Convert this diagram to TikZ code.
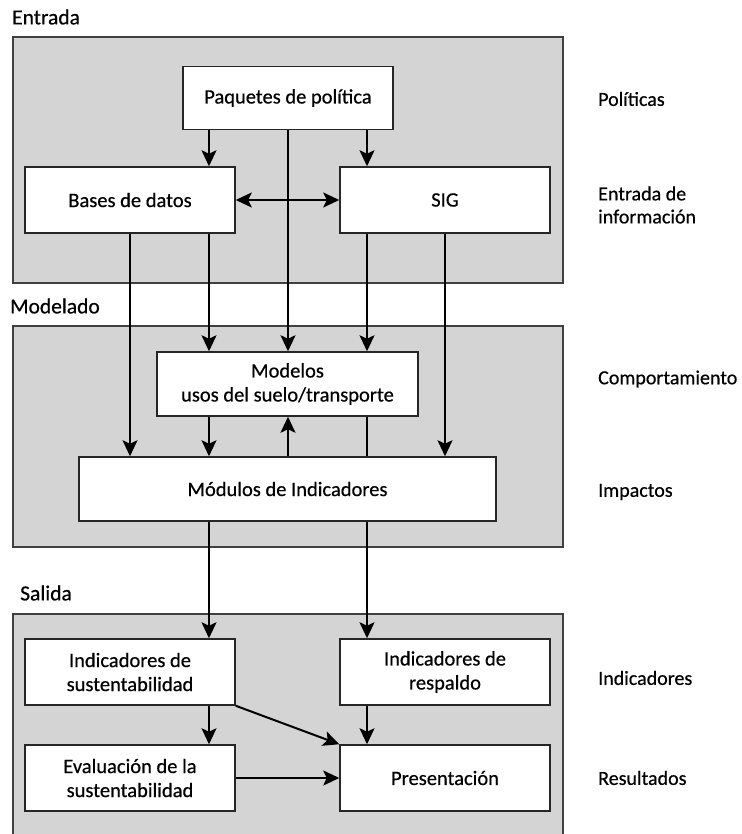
\documentclass[tikz,border=0pt]{standalone}
\usepackage{fontspec}
\setmainfont{Carlito}[FakeBold=0.5]
\usetikzlibrary{arrows.meta}
\begin{document}
\begin{tikzpicture}[x=1pt,y=-1pt,
  group/.style={draw=black!75,fill=black!17,line width=1.5pt},
  box/.style={draw=black!85,fill=white,line width=1.5pt,rectangle,inner sep=0pt,
    align=center,font=\fontsize{20.5}{24}\selectfont},
  head/.style={anchor=west,inner sep=0pt,font=\fontsize{21.5}{25}\selectfont},
  side/.style={anchor=west,inner sep=0pt,align=left,font=\fontsize{20}{23}\selectfont},
  arr/.style={line width=2pt,-{Stealth[length=16pt,width=15pt,inset=3.5pt]}},
  dbl/.style={line width=2pt,{Stealth[length=16pt,width=15pt,inset=3.5pt]}-{Stealth[length=16pt,width=15pt,inset=3.5pt]}},
  ln/.style={line width=2pt}]
\useasboundingbox (0,0) rectangle (741,834);
\clip (0,0) rectangle (741,834);
\fill[white] (0,0) rectangle (741,834);
% column coordinates
\coordinate (c1) at (130,0);
\coordinate (c2) at (209,0);
\coordinate (c3) at (288,0);
\coordinate (c4) at (367,0);
\coordinate (c5) at (445,0);
% groups
\draw[group] (13,37) rectangle (563,283);
\draw[group] (13,326) rectangle (563,547);
\draw[group] (13,614) rectangle (563,850);
\node[head] (hE) at (12,17) {Entrada};
\node[head] (hM) at (10,306) {Modelado};
\node[head] (hS) at (20,593) {Salida};
% side labels
\node[side] (sP) at (598,99) {Políticas};
\node[side] (sE) at (598,205) {Entrada de\\información};
\node[side] (sC) at (598,379) {Comportamiento};
\node[side] (sI) at (598,492) {Impactos};
\node[side] (sN) at (598,678) {Indicadores};
\node[side] (sR) at (598,778) {Resultados};
% boxes
\node[box,minimum width=210pt,minimum height=63pt] (pol) at (288,98) {Paquetes de política};
\node[box,minimum width=210pt,minimum height=66pt] (bd) at (130,200) {Bases de datos};
\node[box,minimum width=210pt,minimum height=66pt] (sig) at (445,200) {SIG};
\node[box,minimum width=261pt,minimum height=64pt] (mod) at (287.5,384) {Modelos\\usos del suelo/transporte};
\node[box,minimum width=417pt,minimum height=64pt] (modu) at (287.5,489) {Módulos de Indicadores};
\node[box,minimum width=210pt,minimum height=66pt] (is) at (130,672) {Indicadores de\\sustentabilidad};
\node[box,minimum width=210pt,minimum height=66pt] (ir) at (445,672) {Indicadores de\\respaldo};
\node[box,minimum width=210pt,minimum height=66pt] (ev) at (130,778) {Evaluación de la\\sustentabilidad};
\node[box,minimum width=210pt,minimum height=66pt] (pre) at (445,778) {Presentación};
% connectors: input
\draw[arr] (pol.south -| c2) -- (bd.north -| c2);
\draw[arr] (pol.south -| c4) -- (sig.north -| c4);
\draw[dbl] (bd.east) -- (sig.west);
\draw[arr] (pol.south -| c3) -- (mod.north -| c3);
\draw[arr] (bd.south -| c2) -- (mod.north -| c2);
\draw[arr] (sig.south -| c4) -- (mod.north -| c4);
\draw[arr] (bd.south -| c1) -- (modu.north -| c1);
\draw[arr] (sig.south -| c5) -- (modu.north -| c5);
% modelling
\draw[arr] (mod.south -| c2) -- (modu.north -| c2);
\draw[arr] (modu.north -| c3) -- (mod.south -| c3);
\draw[ln] (mod.south -| c4) -- (modu.north -| c4);
% output
\draw[arr] (modu.south -| c2) -- (is.north -| c2);
\draw[arr] (modu.south -| c4) -- (ir.north -| c4);
\draw[arr] (is.south -| c2) -- (ev.north -| c2);
\draw[arr] (ir.south -| c4) -- (pre.north -| c4);
\draw[arr] (is.south east) -- (pre.north west);
\draw[arr] (ev.east) -- (pre.west);
\end{tikzpicture}
\end{document}
